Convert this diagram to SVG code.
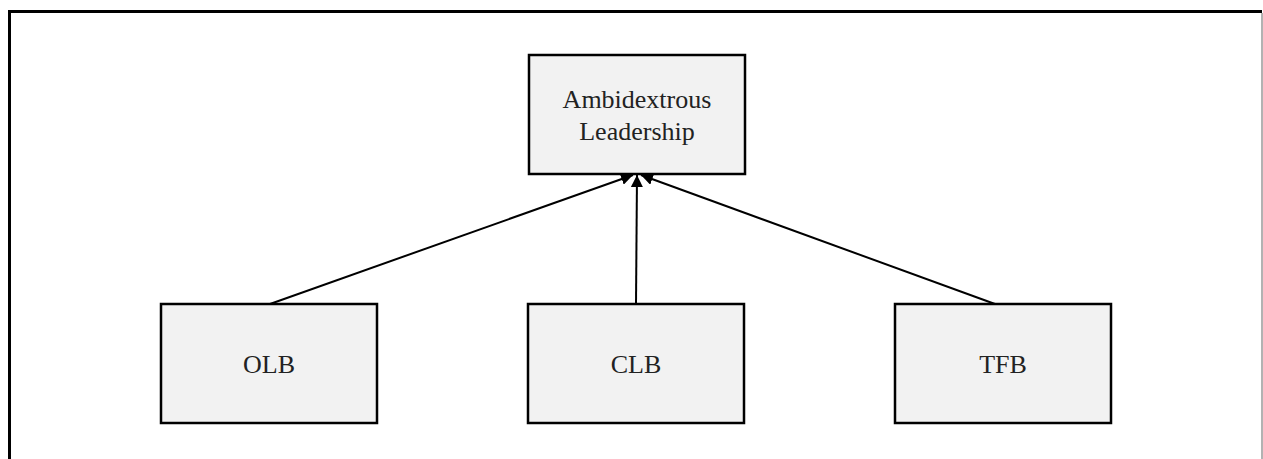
<svg xmlns="http://www.w3.org/2000/svg" width="1263" height="459" viewBox="0 0 1263 459">
<style>
.box{fill:#f2f2f2;stroke:#000;stroke-width:2.5}
.lbl{font-family:"Liberation Serif",serif;font-size:26px;fill:#222;text-anchor:middle}
.con{stroke:#000;stroke-width:2;fill:none}
</style>
<defs>
<marker id="ah" viewBox="0 0 10 10" refX="10" refY="5" markerWidth="6" markerHeight="6" orient="auto" markerUnits="strokeWidth">
<path d="M0,0 L10,5 L0,10 z" fill="#000"/>
</marker>
</defs>
<rect width="1263" height="459" fill="#fff"/>
<path d="M9.5,470 V11.5 H1262" fill="none" stroke="#000" stroke-width="3"/>
<line x1="1262" y1="13" x2="1262" y2="459" stroke="#999" stroke-width="1.5"/>
<g id="connectors">
<line class="con" x1="270" y1="304" x2="633" y2="175" marker-end="url(#ah)"/>
<line class="con" x1="636" y1="304" x2="637" y2="175" marker-end="url(#ah)"/>
<line class="con" x1="995" y1="304" x2="641" y2="175" marker-end="url(#ah)"/>
</g>
<g id="ambidextrous">
<rect class="box" x="529" y="55" width="216" height="119"/>
<text class="lbl" x="637" y="108">Ambidextrous</text>
<text class="lbl" x="637" y="140">Leadership</text>
</g>
<g id="olb">
<rect class="box" x="161" y="304" width="216" height="119"/>
<text class="lbl" x="269" y="373">OLB</text>
</g>
<g id="clb">
<rect class="box" x="528" y="304" width="216" height="119"/>
<text class="lbl" x="636" y="373">CLB</text>
</g>
<g id="tfb">
<rect class="box" x="895" y="304" width="216" height="119"/>
<text class="lbl" x="1003" y="373">TFB</text>
</g>
</svg>
